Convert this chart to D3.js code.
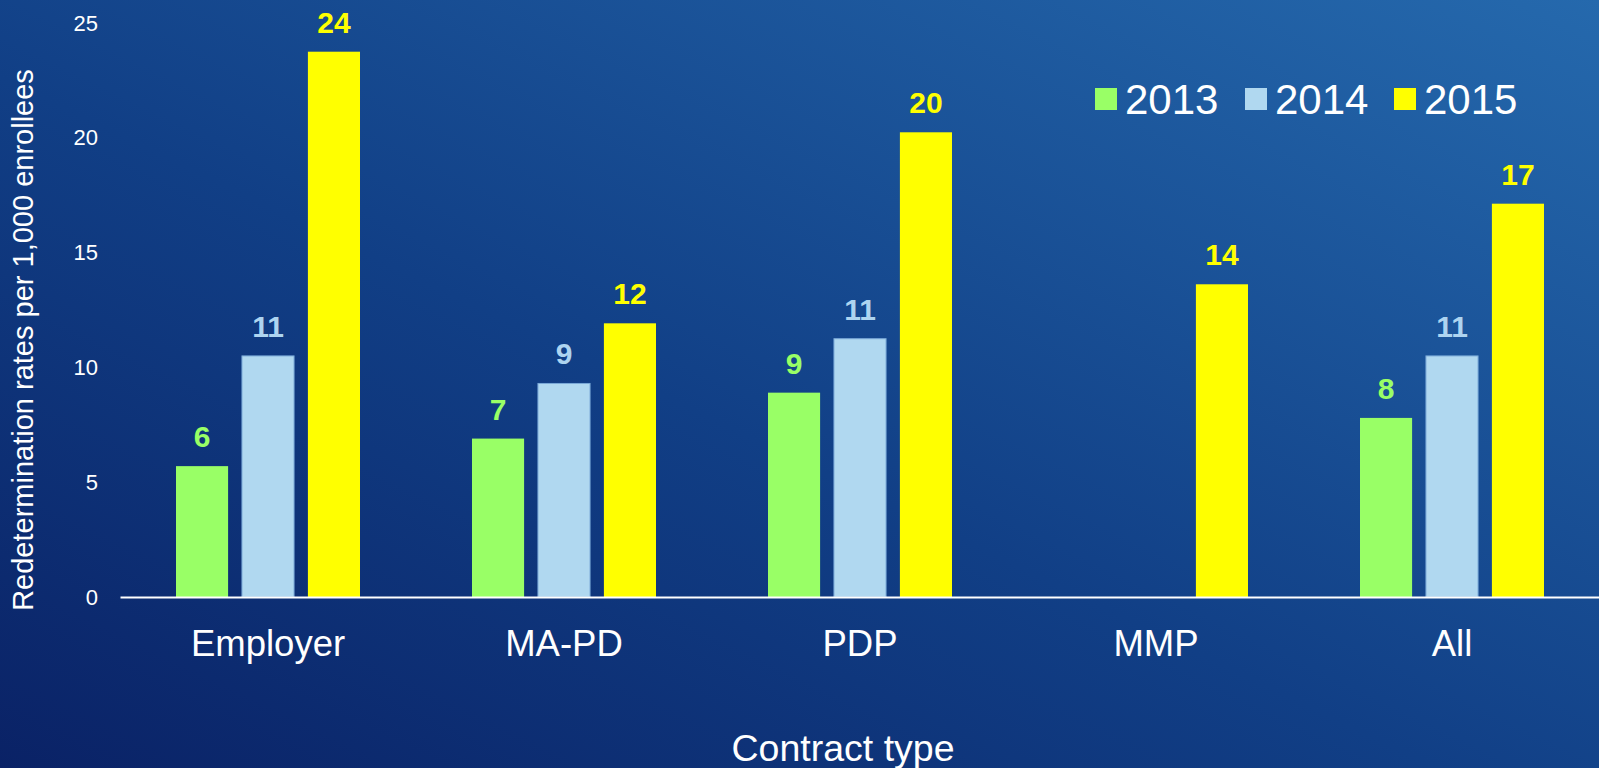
<!DOCTYPE html>
<html>
<head>
<meta charset="utf-8">
<script src="https://cdn.jsdelivr.net/npm/d3@7"></script>
<style>
  body { margin: 0; overflow: hidden; }
  svg { display: block; font-family: Arial, "Liberation Sans", sans-serif; }
</style>
</head>
<body>
<div id="chart"></div>
<script>
// chart data
var categories = ["Employer", "MA-PD", "PDP", "MMP", "All"];
var years = ["2013", "2014", "2015"];
var values2013 = [5.7, 6.9, 8.9, null, 7.8];
var values2014 = [10.5, 9.3, 11.25, null, 10.5];
var values2015 = [23.75, 11.92, 20.24, 13.62, 17.13];
var yTicks = [0, 5, 10, 15, 20, 25];

var colors = { "2013": "#99ff66", "2014": "#b0d8f0", "2015": "#ffff00" };
var labelColors = { "2013": "#99ff66", "2014": "#aed4f0", "2015": "#ffff00" };

var W = 1599, H = 768;

var svg = d3.select("#chart")
  .append("svg")
    .attr("width", W)
    .attr("height", H);

// background gradient
var defs = svg.append("defs");
var grad = defs.append("linearGradient")
  .attr("id", "bg")
  .attr("x1", "0%").attr("y1", "100%")
  .attr("x2", "100%").attr("y2", "0%");
grad.append("stop").attr("offset", "0%").attr("stop-color", "#0a2266");
grad.append("stop").attr("offset", "45%").attr("stop-color", "#113f86");
grad.append("stop").attr("offset", "100%").attr("stop-color", "#2569ad");
svg.append("rect").attr("width", W).attr("height", H).attr("fill", "url(#bg)");

// build rows
var series = { "2013": values2013, "2014": values2014, "2015": values2015 };
var rows = categories.map(function(c, i) {
  return years.map(function(y) { return { cat: c, year: y, value: series[y][i] }; });
});

var x0 = d3.scaleBand()
  .domain(categories)
  .range([120, 1600])
  .padding(0);

var x1 = d3.scaleBand()
  .domain(years)
  .range([56, 240])
  .paddingInner(0.21)
  .paddingOuter(0);

var y = d3.scaleLinear()
  .domain([0, 25])
  .range([597, 23]);

// y axis tick labels (no line, no ticks)
var yAxis = svg.append("g")
  .attr("transform", "translate(98,0)")
  .call(d3.axisLeft(y).tickValues(yTicks).tickSize(0).tickPadding(0));
yAxis.select(".domain").remove();
yAxis.selectAll("text")
  .attr("fill", "#ffffff")
  .style("font-size", "22px")
  .style("font-family", "Arial, 'Liberation Sans', sans-serif");

// bars
var groups = svg.selectAll("g.grp")
  .data(rows)
  .enter()
  .append("g")
    .attr("class", "grp")
    .attr("transform", function(d) { return "translate(" + x0(d[0].cat) + ",0)"; });

groups.selectAll("rect")
  .data(function(d) { return d.filter(function(e) { return e.value != null; }); })
  .enter()
  .append("rect")
    .attr("x", function(d) { return x1(d.year); })
    .attr("y", function(d) { return y(d.value); })
    .attr("width", x1.bandwidth())
    .attr("height", function(d) { return y(0) - y(d.value); })
    .attr("fill", function(d) { return colors[d.year]; })
    .attr("stroke", function(d) { return d.year === "2014" ? "#7aa9d8" : "none"; })
    .attr("stroke-width", 1);

groups.selectAll("text")
  .data(function(d) { return d.filter(function(e) { return e.value != null; }); })
  .enter()
  .append("text")
    .attr("x", function(d) { return x1(d.year) + x1.bandwidth() / 2; })
    .attr("y", function(d) { return y(d.value) - 19; })
    .attr("text-anchor", "middle")
    .attr("fill", function(d) { return labelColors[d.year]; })
    .style("font-size", "30px")
    .style("font-weight", "bold")
    .text(function(d) { return Math.round(d.value); });

// x axis baseline + category labels
var xAxis = svg.append("g")
  .attr("transform", "translate(0," + y(0) + ")")
  .call(d3.axisBottom(x0).tickSize(0).tickPadding(0));
xAxis.select(".domain")
  .attr("stroke", "#ffffff")
  .attr("stroke-width", 2);
xAxis.selectAll("text")
  .attr("fill", "#ffffff")
  .attr("dy", null)
  .attr("y", 59)
  .style("font-size", "36.5px")
  .style("font-family", "Arial, 'Liberation Sans', sans-serif");

// axis titles
svg.append("text")
  .attr("x", 843)
  .attr("y", 761)
  .attr("text-anchor", "middle")
  .attr("fill", "#ffffff")
  .style("font-size", "37.5px")
  .text("Contract type");

svg.append("text")
  .attr("transform", "translate(33,340) rotate(-90)")
  .attr("text-anchor", "middle")
  .attr("fill", "#ffffff")
  .style("font-size", "29px")
  .text("Redetermination rates per 1,000 enrollees");

// legend
var legendX = [1095, 1245, 1394];
var legend = svg.selectAll("g.leg")
  .data(years)
  .enter()
  .append("g")
    .attr("class", "leg")
    .attr("transform", function(d, i) { return "translate(" + legendX[i] + ",88)"; });
legend.append("rect")
  .attr("width", 22)
  .attr("height", 22)
  .attr("fill", function(d) { return colors[d]; });
legend.append("text")
  .attr("x", 30)
  .attr("y", 26)
  .attr("fill", "#ffffff")
  .style("font-size", "42px")
  .text(function(d) { return d; });
</script>
</body>
</html>
